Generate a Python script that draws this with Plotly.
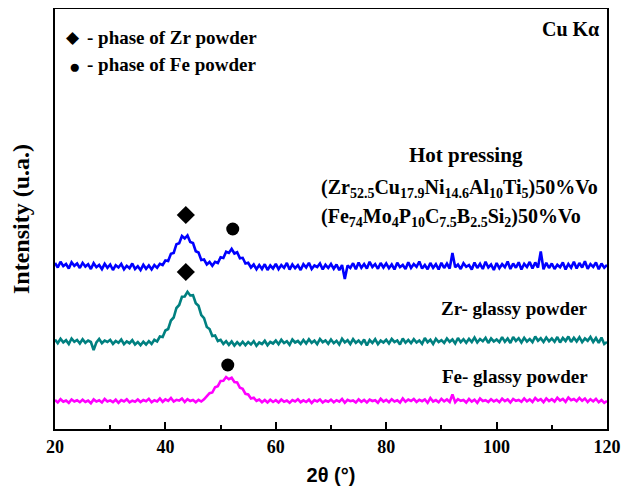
import plotly.graph_objects as go

# 2-theta scan grid (degrees), 0.5 deg step from 20 to 120
TWO_THETA = [20 + 0.5 * i for i in range(201)]

# Hot pressing composite (stacked intensity, a.u.)
HOT_PRESSING = [
    1660, 1615, 1672, 1628, 1650, 1605, 1668, 1632, 1655, 1610,
    1662, 1625, 1648, 1600, 1658, 1618, 1640, 1598, 1652, 1612,
    1645, 1590, 1638, 1615, 1650, 1596, 1632, 1608, 1655, 1600,
    1628, 1590, 1642, 1602, 1635, 1596, 1640, 1612, 1652, 1640,
    1685, 1680, 1752, 1760, 1848, 1858, 1930, 1905, 1936, 1870,
    1860, 1778, 1765, 1690, 1695, 1645, 1670, 1632, 1672, 1660,
    1718, 1710, 1772, 1760, 1800, 1755, 1768, 1708, 1712, 1655,
    1662, 1615, 1645, 1598, 1640, 1600, 1648, 1590, 1635, 1605,
    1652, 1598, 1640, 1612, 1660, 1594, 1645, 1608, 1638, 1590,
    1648, 1615, 1662, 1600, 1635, 1620, 1655, 1596, 1642, 1610,
    1650, 1602, 1645, 1588, 1640, 1500, 1635, 1610, 1658, 1598,
    1665, 1612, 1650, 1605, 1672, 1620, 1648, 1602, 1660, 1615,
    1655, 1608, 1645, 1596, 1662, 1618, 1640, 1600, 1668, 1610,
    1650, 1622, 1675, 1605, 1640, 1598, 1660, 1612, 1648, 1595,
    1662, 1610, 1655, 1605, 1760, 1618, 1645, 1600, 1658, 1622,
    1640, 1595, 1665, 1610, 1652, 1600, 1672, 1615, 1645, 1590,
    1660, 1608, 1648, 1618, 1675, 1600, 1655, 1612, 1668, 1595,
    1652, 1620, 1670, 1605, 1665, 1615, 1775, 1598, 1662, 1610,
    1655, 1600, 1642, 1618, 1665, 1596, 1650, 1612, 1672, 1605,
    1660, 1615, 1678, 1602, 1648, 1620, 1665, 1598, 1655, 1612,
    1640,
]

# Zr- glassy powder
ZR_POWDER = [
    895, 858, 902, 866, 888, 850, 905, 872, 890, 855,
    898, 862, 885, 870, 790, 866, 900, 858, 884, 870,
    892, 850, 880, 862, 895, 848, 876, 858, 888, 845,
    870, 838, 872, 845, 878, 850, 892, 875, 925, 920,
    985, 1000, 1085, 1115, 1210, 1240, 1322, 1325, 1372, 1335,
    1338, 1258, 1232, 1140, 1108, 1020, 1000, 930, 935, 880,
    892, 850, 878, 842, 875, 835, 868, 840, 872, 838,
    870, 845, 878, 832, 865, 850, 882, 838, 870, 855,
    885, 848, 892, 860, 878, 842, 895, 865, 880, 850,
    890, 855, 898, 862, 884, 848, 900, 868, 886, 852,
    895, 858, 882, 845, 902, 866, 888, 850, 898, 862,
    885, 852, 895, 835, 890, 860, 898, 848, 884, 865,
    892, 855, 900, 870, 886, 845, 905, 862, 890, 858,
    898, 865, 885, 852, 910, 868, 892, 850, 902, 870,
    888, 860, 905, 872, 895, 855, 910, 868, 898, 862,
    902, 870, 915, 865, 900, 878, 912, 860, 905, 875,
    895, 868, 918, 872, 905, 860, 920, 880, 908, 865,
    912, 875, 900, 868, 925, 882, 908, 870, 915, 878,
    905, 872, 920, 865, 910, 880, 925, 870, 912, 876,
    918, 868, 905, 882, 920, 870, 910, 862, 915, 850,
    870,
]

# Fe- glassy powder
FE_POWDER = [
    290, 265, 298, 272, 285, 262, 295, 275, 288, 268,
    292, 270, 284, 258, 296, 274, 287, 265, 300, 276,
    286, 268, 293, 262, 289, 275, 298, 266, 284, 272,
    295, 270, 290, 278, 302, 268, 288, 276, 305, 272,
    296, 282, 310, 275, 292, 285, 305, 270, 298, 280,
    290, 268, 292, 275, 296, 330, 358, 365, 418, 428,
    480, 482, 520, 498, 512, 470, 466, 412, 402, 352,
    345, 305, 312, 282, 295, 268, 290, 265, 292, 270,
    288, 266, 295, 272, 284, 262, 290, 275, 298, 268,
    286, 270, 293, 260, 289, 276, 296, 264, 285, 272,
    294, 268, 288, 274, 300, 262, 291, 278, 286, 265,
    297, 272, 290, 266, 295, 280, 288, 262, 302, 275,
    292, 268, 298, 276, 287, 265, 305, 272, 294, 280,
    300, 270, 292, 278, 296, 262, 310, 275, 289, 268,
    302, 276, 295, 270, 345, 268, 298, 282, 290, 265,
    300, 274, 293, 262, 305, 280, 288, 270, 298, 276,
    292, 268, 304, 278, 296, 265, 300, 282, 290, 272,
    305, 276, 296, 270, 310, 284, 298, 268, 306, 280,
    298, 275, 312, 285, 302, 272, 315, 288, 300, 278,
    310, 282, 305, 270, 298, 276, 302, 268, 290, 262,
    280,
]

# Phase markers (peak positions and heights above the curves)
ZR_PHASE_X = [43.7, 43.7]
ZR_PHASE_Y = [2140, 1570]
FE_PHASE_X = [52.2, 51.3]
FE_PHASE_Y = [2000, 640]

X_TICKS = [20, 40, 60, 80, 100, 120]

SERIF = "Liberation Serif"

# The page body adds an 8 px offset; figure is sized so it ends at the window edge.
OFF = 8
W, H = 623, 485
PL, PR, PT, PB = 55, 607, 9, 429  # plot box in window pixels

fig = go.Figure()
fig.add_trace(go.Scatter(x=TWO_THETA, y=FE_POWDER, mode="lines",
                         line=dict(color="#FF00FF", width=2.6), showlegend=False))
fig.add_trace(go.Scatter(x=TWO_THETA, y=ZR_POWDER, mode="lines",
                         line=dict(color="#008080", width=2.6), showlegend=False))
fig.add_trace(go.Scatter(x=TWO_THETA, y=HOT_PRESSING, mode="lines",
                         line=dict(color="#0000FF", width=2.6), showlegend=False))
fig.add_trace(go.Scatter(x=ZR_PHASE_X, y=ZR_PHASE_Y, mode="markers",
                         marker=dict(symbol="diamond", size=14, color="black"),
                         showlegend=False))
fig.add_trace(go.Scatter(x=FE_PHASE_X, y=FE_PHASE_Y, mode="markers",
                         marker=dict(symbol="circle", size=13, color="black"),
                         showlegend=False))

def px(xp):
    return (xp - PL) / (PR - PL)

def py(yp):
    return (PB - yp) / (PB - PT)

def txt(x, y, s, size=16, xanchor="left"):
    fig.add_annotation(x=px(x), y=py(y), xref="paper", yref="paper", text=s,
                       showarrow=False, xanchor=xanchor, yanchor="middle",
                       font=dict(family=SERIF, size=size, color="black"))

def sub(s):
    return "<sub>" + s + "</sub>"

txt(73, 38, "◆", size=17, xanchor="center")
txt(74, 67, "●", size=19, xanchor="center")
txt(85, 38, "<b>- phase of Zr powder</b>", size=19)
txt(85, 65, "<b>- phase of Fe powder</b>", size=19)
txt(601, 29, "<b>Cu Kα</b>", size=20, xanchor="right")
txt(466, 155, "<b>Hot pressing</b>", size=21, xanchor="center")
txt(319, 188, "<b>(Zr" + sub("52.5") + "Cu" + sub("17.9") + "Ni" + sub("14.6") + "Al" + sub("10")
    + "Ti" + sub("5") + ")50%Vo</b>", size=20)
txt(319, 217, "<b>(Fe" + sub("74") + "Mo" + sub("4") + "P" + sub("10") + "C" + sub("7.5")
    + "B" + sub("2.5") + "Si" + sub("2") + ")50%Vo</b>", size=20)
txt(439, 308, "<b>Zr- glassy powder</b>", size=19)
txt(440, 376, "<b>Fe- glassy powder</b>", size=19)

fig.update_layout(
    width=W, height=H,
    margin=dict(l=PL - OFF, r=W + OFF - PR, t=PT - OFF, b=H + OFF - PB, autoexpand=False),
    paper_bgcolor="white", plot_bgcolor="white",
    font=dict(family=SERIF, color="black"),
)
fig.update_xaxes(
    range=[20, 120], tickvals=X_TICKS, ticktext=[str(t) for t in X_TICKS],
    ticks="inside", ticklen=7, tickwidth=1.5, tickcolor="black",
    minor=dict(dtick=10, ticks="inside", ticklen=4, tickwidth=1.5, tickcolor="black"),
    showline=True, linewidth=2, linecolor="black", mirror=True,
    showgrid=False, zeroline=False, automargin=False,
    tickfont=dict(family=SERIF, size=18, weight="bold"),
    title=dict(text="<b>2θ (°)</b>", font=dict(family="Liberation Sans", size=20), standoff=12),
)
fig.update_yaxes(
    range=[0, 4200], showticklabels=False, ticks="",
    showline=True, linewidth=2, linecolor="black", mirror=True,
    showgrid=False, zeroline=False, automargin=False,
    title=dict(text="<b>Intensity (u.a.)</b>", font=dict(family=SERIF, size=24), standoff=20),
)

fig.write_html("out.html")
